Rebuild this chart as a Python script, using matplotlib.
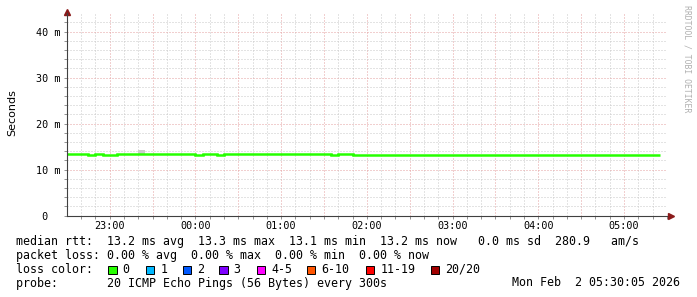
import numpy as np
import pandas as pd
import matplotlib
matplotlib.use("Agg")
import matplotlib.pyplot as plt
import matplotlib.dates as mdates
from matplotlib.patches import Rectangle
from matplotlib.ticker import FuncFormatter

W, H = 697, 297

# median rtt per 5 minute step (ms), starting 22:30
rtt_ms = [13.34, 13.34, 13.34, 13.17, 13.34, 13.17, 13.17, 13.34, 13.34, 13.34,
          13.34, 13.34, 13.34, 13.34, 13.34, 13.34, 13.34, 13.34, 13.17, 13.34,
          13.34, 13.17, 13.34, 13.34, 13.34, 13.34, 13.34, 13.34, 13.34, 13.34,
          13.34, 13.34, 13.34, 13.34, 13.34, 13.34, 13.34, 13.17, 13.34, 13.34,
          13.17, 13.17, 13.17, 13.17, 13.17, 13.17, 13.17, 13.17, 13.17, 13.17,
          13.17, 13.17, 13.17, 13.17, 13.17, 13.17, 13.17, 13.17, 13.17, 13.17,
          13.17, 13.17, 13.17, 13.17, 13.17, 13.17, 13.17, 13.17, 13.17, 13.17,
          13.17, 13.17, 13.17, 13.17, 13.17, 13.17, 13.17, 13.17, 13.17, 13.17,
          13.17, 13.17, 13.17]
# smoke (ping spread) visible above the median line
smoke_step = [10]
smoke_lo = [13.3]
smoke_hi = [14.2]

y_ticks = [0, 10, 20, 30, 40]
y_tick_labels = [" 0", "10 m", "20 m", "30 m", "40 m"]

loss_labels = ["0", "1", "2", "3", "4-5", "6-10", "11-19", "20/20"]
loss_colors = ["#26ff00", "#00b8ff", "#0059ff", "#7e00ff",
               "#ff00ff", "#ff5500", "#ff0000", "#a10000"]
loss_box_x = [108, 145.7, 182.7, 219, 256.7, 306.7, 365.7, 430.7]

legend_rows = [
    "median rtt:  13.2 ms avg  13.3 ms max  13.1 ms min  13.2 ms now   0.0 ms sd  280.9   am/s",
    "packet loss: 0.00 % avg  0.00 % max  0.00 % min  0.00 % now",
    "loss color:",
    "probe:       20 ICMP Echo Pings (56 Bytes) every 300s",
]
stamp = "Mon Feb  2 05:30:05 2026"

t0 = pd.Timestamp("2026-02-01 22:30:00")
edges = mdates.date2num(pd.date_range(t0, periods=len(rtt_ms) + 1, freq="5min"))
x_lo = mdates.date2num(pd.Timestamp("2026-02-01 22:30:05"))
x_hi = mdates.date2num(pd.Timestamp("2026-02-02 05:30:05"))

mono = "DejaVu Sans Mono"

fig = plt.figure(figsize=(W / 100, H / 100), dpi=100)
fig.patch.set_facecolor("white")
ax = fig.add_axes([67 / W, (H - 215.5) / H, 600 / W, (215.5 - 13) / H])

# grids
ax.xaxis.set_major_locator(mdates.MinuteLocator(byminute=[0, 30]))
ax.xaxis.set_minor_locator(mdates.MinuteLocator(byminute=range(0, 60, 10)))
ax.xaxis.set_major_formatter(FuncFormatter(
    lambda v, p: mdates.num2date(v).strftime("%H:%M") if mdates.num2date(v).minute == 0 else ""))
ax.set_yticks(y_ticks, y_tick_labels)
ax.set_yticks(np.arange(0, 44, 2), minor=True)
ax.grid(which="minor", color="#c8c8c8", lw=0.72, ls=(0, (1, 2)))
ax.grid(which="major", color="#e4a0a0", lw=0.72, ls=(0, (1, 2)))
ax.set_axisbelow(True)

for i, lo, hi in zip(smoke_step, smoke_lo, smoke_hi):
    ax.bar(edges[i], hi - lo, bottom=lo, width=edges[i + 1] - edges[i],
           align="edge", color="#cccccc", lw=0)
ax.stairs(rtt_ms, edges, color="#26ff00", lw=1.8, baseline=None)

ax.set_xlim(x_lo, x_hi)
ax.set_ylim(0, 44.05)
for s in ["top", "right"]:
    ax.spines[s].set_visible(False)
for s in ["left", "bottom"]:
    ax.spines[s].set_color("#404040")
    ax.spines[s].set_linewidth(0.8)
ax.plot([0], [1.005], marker="^", ms=4, color="#8b1a1a", transform=ax.transAxes, clip_on=False)
ax.plot([1.006], [0], marker=">", ms=4, color="#8b1a1a", transform=ax.transAxes, clip_on=False)

ax.tick_params(axis="both", which="both", length=2, width=0.6, color="#808080")
ax.tick_params(axis="x", which="major", labelsize=7.3, pad=2)
ax.tick_params(axis="y", which="major", labelsize=7.3, pad=20.3)
for lbl in ax.get_xticklabels() + ax.get_yticklabels():
    lbl.set_fontfamily(mono)
for lbl in ax.get_yticklabels():
    lbl.set_horizontalalignment("left")

ax.set_ylabel("Seconds", fontsize=8, family="DejaVu Sans")
ax.yaxis.set_label_coords(17 / W, (H - 113) / H, transform=fig.transFigure)


def fx(x):
    return x / W


def fy(y):
    return (H - y) / H


baselines = [244.7, 258.7, 272.7, 286.5]
for row, yb in zip(legend_rows, baselines):
    fig.text(fx(16), fy(yb), row, family=mono, fontsize=8.4, va="baseline", ha="left")
fig.text(fx(680), fy(baselines[3]), stamp, family=mono, fontsize=8.4, va="baseline", ha="right")

for bx, c, lab in zip(loss_box_x, loss_colors, loss_labels):
    fig.patches.append(Rectangle((fx(bx), fy(274)), 8.5 / W, 8.5 / H, transform=fig.transFigure,
                                 facecolor=c, edgecolor="black", lw=0.7))
    fig.text(fx(bx + 14.7), fy(baselines[2]), lab, family=mono, fontsize=8.4, va="baseline", ha="left")

fig.text(fx(687), fy(59), "RRDTOOL / TOBI OETIKER", family=mono, fontsize=5.9,
         color="#b0b0b0", rotation=270, ha="center", va="center")

fig.savefig("out.png", dpi=100)
